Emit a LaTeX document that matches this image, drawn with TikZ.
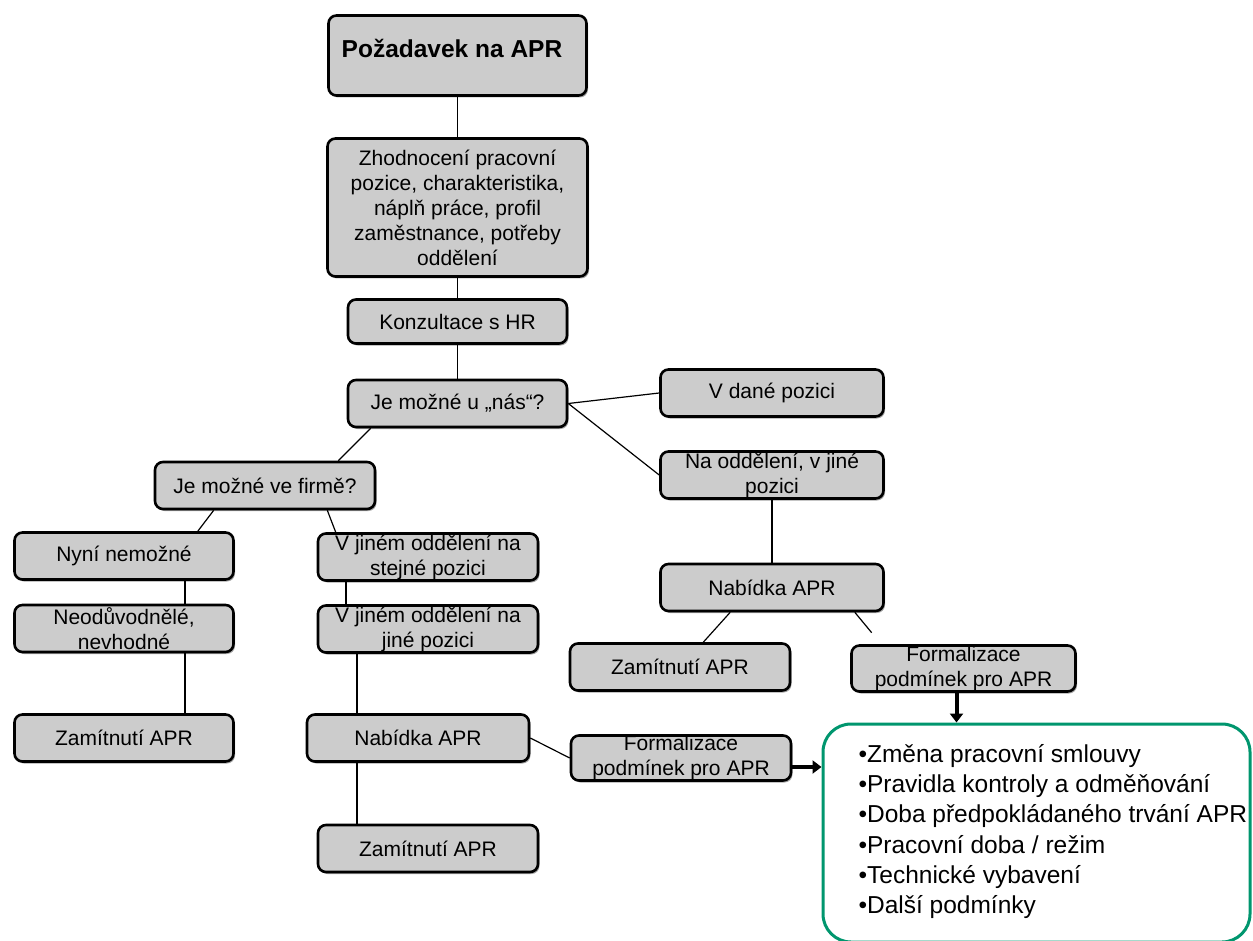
\documentclass[tikz,border=0pt]{standalone}
\usepackage{fontspec}
\setmainfont{Liberation Sans}
\usetikzlibrary{arrows.meta,shadows}
\definecolor{boxgray}{RGB}{204,204,204}
\definecolor{listgreen}{RGB}{0,150,110}
\tikzset{gray box/.style={
    draw, fill=boxgray,
    line width=2.6pt,
    rounded corners=8pt,
    minimum width=#1, minimum height=47pt,
    inner sep=0pt,
    align=center,
    font=\fontsize{21}{25}\selectfont,
    drop shadow={shadow xshift=1.5pt, shadow yshift=-2pt, fill=black!35, opacity=1}
  },
  gray box/.default=220pt,
  link/.style={line width=1.2pt},
  big arrow/.style={line width=4pt, -{Triangle[length=9pt,width=13pt]}}
}

\begin{document}
\begin{tikzpicture}[x=1pt,y=-1pt]
\useasboundingbox (0,0) rectangle (1253,941);
        \node[gray box=258pt, minimum height=80pt] (req) at (457.5,55.5) {};
        \node[font=\fontsize{24.5}{29}\selectfont\bfseries] (reqtext) at (452,48) {Požadavek na APR};
        \node[gray box=260pt, minimum height=138pt] (eval) at (457.5,207.5)
            {Zhodnocení pracovní\\pozice, charakteristika,\\náplň práce, profil\\zaměstnance, potřeby\\oddělení};
        \node[gray box=219pt, minimum height=44pt] (hr) at (457.5,321.5) {Konzultace s HR};
        \node[gray box=219pt] (here) at (457.5,403.5) {Je možné u „nás“?};
        \node[gray box=223pt] (pos) at (772,393) {V dané pozici};
        \node[gray box=223pt] (oth) at (772,475) {Na oddělení, v jiné\\pozici};
        \node[gray box] (firm) at (265,485.5) {Je možné ve firmě?};
        \node[gray box=219pt] (now) at (124,556) {Nyní nemožné};
        \node[gray box] (same) at (428,557) {V jiném oddělení na\\stejné pozici};
        \node[gray box=219pt] (unjust) at (124,628.5) {Neodůvodnělé,\\nevhodné};
        \node[gray box] (diff) at (428,629) {V jiném oddělení na\\jiné pozici};
        \node[gray box=223pt] (offerR) at (772,587.5) {Nabídka APR};
        \node[gray box] (rejectR) at (680,667) {Zamítnutí APR};
        \node[gray box=224pt, minimum height=46pt] (formR) at (963.5,668.5) {Formalizace\\podmínek pro APR};
        \node[gray box=219pt] (rejectL) at (124,738) {Zamítnutí APR};
        \node[gray box=222pt] (offerM) at (418,738) {Nabídka APR};
        \node[gray box, minimum height=45pt] (formM) at (681,758) {Formalizace\\podmínek pro APR};
        \node[gray box] (rejectM) at (428,848.5) {Zamítnutí APR};
        \node[draw=listgreen, line width=3pt, rounded corners=28pt,
            minimum width=427pt, minimum height=218pt] (list) at (1036.5,833) {};
        \node[anchor=west, align=left, font=\fontsize{24.5}{30.2}\selectfont] (listtext) at (855,831.5)
            {•Změna pracovní smlouvy\\•Pravidla kontroly a odměňování\\•Doba předpokládaného trvání APR\\•Pracovní doba / režim\\•Technické vybavení\\•Další podmínky};

        \draw[link] (req.south) -- (eval.north);
        \draw[link] (eval.south) -- (hr.north);
        \draw[link] (hr.south) -- (here.north);
        \draw[link] (here.east) -- (pos.west);
        \draw[link] (here.east) -- (oth.west);
        \draw[link] ([xshift=24pt]here.south west) -- ([xshift=-38pt]firm.north east);
        \draw[link] ([xshift=60pt]firm.south west) -- ([xshift=-37pt]now.north east);
        \draw[link] ([xshift=-49pt]firm.south east) -- ([xshift=19pt]same.north west);
        \draw[link] ([xshift=61pt]now.south) -- ([xshift=61pt]unjust.north);
        \draw[link] ([xshift=-82pt]same.south) -- ([xshift=-82pt]diff.north);
        \draw[link] ([xshift=61pt]unjust.south) -- ([xshift=61pt]rejectL.north);
        \draw[link] ([xshift=-71pt]diff.south) -- ([xshift=-61pt]offerM.north);
        \draw[link] ([xshift=-61pt]offerM.south) -- ([xshift=-71pt]rejectM.north);
        \draw[link] (offerM.east) -- (formM.west);
        \draw[link] (oth.south) -- (offerR.north);
        \draw[link] ([xshift=71pt]offerR.south west) -- ([xshift=-88pt]rejectR.north east);
        \draw[link, shorten >=15pt] ([xshift=-30pt]offerR.south east) -- ([xshift=31pt]formR.north west);
        \draw[big arrow] ([xshift=-7pt]formR.south) -- ([xshift=-7pt]formR.south |- list.north);
        \draw[big arrow] ([yshift=-9pt]formM.east) -- ([yshift=-9pt]formM.east -| list.west);
\end{tikzpicture}
\end{document}
